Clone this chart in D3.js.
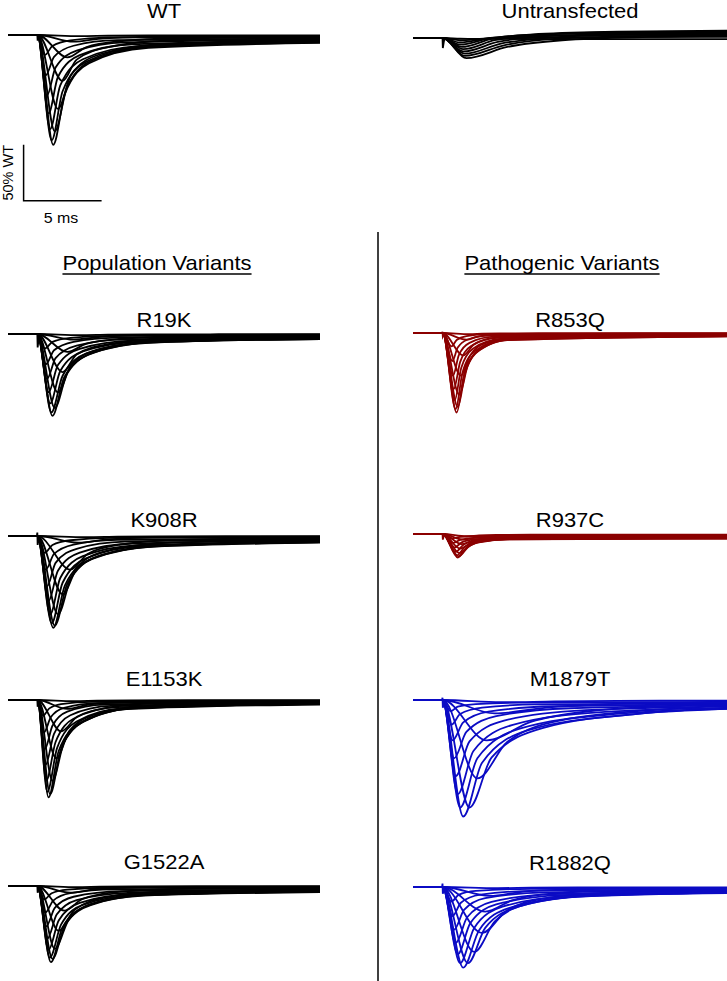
<!DOCTYPE html>
<html>
<head>
<meta charset="utf-8">
<script src="https://cdn.jsdelivr.net/npm/d3@7/dist/d3.min.js"></script>
<style>
  body { margin: 0; background: #fff; }
  text { font-family: "Liberation Sans", Arial, sans-serif; fill: #000; }
</style>
</head>
<body>
<svg id="fig" width="727" height="981"></svg>
<script>
// each sweep: [peak (% of WT), time of peak (ms), t at 50% decay, t at 20% decay, t at 5% decay, steady level (%)]
const stepTime = 1.9;
const sweepEnd = 20;

const wtSweeps = [
  [1, 4.6, 6.4, 9, 13.5, 0.3], [6, 4.2, 5.8, 8.0, 12, 0.8], [20, 3.8, 5.0, 7.1, 11, 2],
  [41, 3.5, 4.4, 6.5, 10.5, 3], [66, 3.2, 4.05, 5.9, 10, 5], [86, 3.0, 3.8, 5.5, 9.5, 6],
  [98, 2.9, 3.65, 5.2, 9, 7], [94, 2.8, 3.5, 5.0, 8.7, 6.5], [84, 2.7, 3.35, 4.8, 8.4, 6],
  [70, 2.6, 3.2, 4.6, 8, 5], [54, 2.5, 3.05, 4.4, 7.5, 4], [36, 2.42, 2.95, 4.2, 7, 3],
  [18, 2.35, 2.85, 4.0, 6.5, 1.5]
];
const untransfectedSweeps = [
  [18, 3.4, 6.0, 9.5, 15, -2], [16, 3.3, 5.8, 9.0, 15, -3], [14, 3.3, 5.6, 8.8, 14, -4],
  [12, 3.2, 5.4, 8.5, 14, -5], [10, 3.2, 5.2, 8.2, 13, -6], [8, 3.1, 5.0, 8.0, 13, -6.5],
  [6, 3.0, 4.8, 7.5, 12, -5], [4, 3.0, 4.6, 7.0, 12, -3], [2, 3.0, 4.5, 7, 11, -1],
  [0.5, 3, 4.5, 7, 11, 1]
];
const r19kSweeps = [
  [1, 4.6, 6.4, 9, 13.5, 0.2], [5, 4.2, 5.8, 8.0, 12, 0.6], [16, 3.8, 5.0, 7.1, 11, 1.5],
  [34, 3.5, 4.4, 6.5, 10.5, 2.5], [52, 3.2, 4.05, 5.9, 10, 3.5], [66, 3.0, 3.8, 5.5, 9.5, 4],
  [73, 2.85, 3.6, 5.2, 9, 4.5], [70, 2.78, 3.5, 5.0, 8.7, 4.5], [62, 2.7, 3.35, 4.8, 8.4, 4],
  [52, 2.6, 3.2, 4.6, 8, 3.5], [40, 2.5, 3.05, 4.4, 7.5, 3], [27, 2.42, 2.95, 4.2, 7, 2],
  [13, 2.35, 2.85, 4.0, 6.5, 1]
];
const k908rSweeps = [
  [1, 5.0, 7.0, 9.5, 14, 0.2], [6, 4.5, 6.2, 8.4, 12.5, 0.6], [30, 4.0, 5.1, 7.2, 11, 2],
  [52, 3.5, 4.45, 6.3, 10.5, 3.5], [70, 3.2, 4.05, 5.8, 10, 5], [80, 3.0, 3.8, 5.4, 9.5, 5.5],
  [82, 2.9, 3.65, 5.2, 9, 6], [78, 2.8, 3.5, 5.0, 8.7, 5.5], [70, 2.7, 3.35, 4.8, 8.4, 5],
  [58, 2.6, 3.2, 4.6, 8, 4], [45, 2.5, 3.05, 4.4, 7.5, 3], [30, 2.42, 2.95, 4.2, 7, 2],
  [15, 2.35, 2.85, 4.0, 6.5, 1]
];
const e1153kSweeps = [
  [1, 4.2, 5.7, 7.8, 11.5, 0.2], [8, 3.8, 5.1, 7.1, 10.5, 0.5], [28, 3.4, 4.45, 6.4, 9.8, 1.5],
  [52, 3.1, 3.95, 5.7, 9.2, 2.5], [72, 2.85, 3.6, 5.2, 8.5, 3], [84, 2.7, 3.4, 4.8, 8, 3.5],
  [87, 2.6, 3.25, 4.6, 7.6, 4], [82, 2.52, 3.15, 4.4, 7.3, 3.5], [72, 2.45, 3.05, 4.2, 7, 3],
  [58, 2.4, 2.95, 4.0, 6.6, 2.5], [44, 2.35, 2.85, 3.8, 6.2, 2], [29, 2.3, 2.75, 3.6, 5.8, 1.5],
  [14, 2.25, 2.65, 3.4, 5.4, 1]
];
const g1522aSweeps = [
  [1, 4.4, 5.9, 8.1, 12.5, 0.2], [6, 4.0, 5.4, 7.5, 11.5, 0.6], [22, 3.6, 4.75, 6.8, 10.7, 1.5],
  [40, 3.25, 4.25, 6.2, 10.2, 3], [56, 3.0, 3.9, 5.7, 9.7, 4], [65, 2.85, 3.65, 5.3, 9.1, 5],
  [68, 2.75, 3.5, 5.0, 8.7, 5.5], [64, 2.68, 3.4, 4.8, 8.4, 5], [57, 2.6, 3.25, 4.6, 8.1, 4.5],
  [47, 2.52, 3.12, 4.4, 7.7, 4], [36, 2.45, 3.0, 4.2, 7.3, 3], [24, 2.38, 2.9, 4.0, 6.8, 2],
  [12, 2.32, 2.8, 3.8, 6.4, 1]
];
const r853qSweeps = [
  [1, 3.6, 4.4, 5.5, 8, 0.2], [6, 3.4, 4.1, 5.2, 7.5, 0.5], [20, 3.2, 3.85, 4.9, 7.1, 1],
  [38, 3.05, 3.65, 4.65, 6.8, 1.5], [55, 2.95, 3.5, 4.45, 6.5, 2], [66, 2.85, 3.35, 4.25, 6.2, 2.5],
  [71, 2.78, 3.25, 4.1, 6, 3], [68, 2.72, 3.15, 3.95, 5.8, 3], [60, 2.66, 3.07, 3.82, 5.6, 2.5],
  [50, 2.6, 3.0, 3.7, 5.4, 2], [38, 2.55, 2.92, 3.6, 5.2, 1.5], [25, 2.5, 2.85, 3.5, 5, 1],
  [12, 2.45, 2.78, 3.4, 4.8, 0.5]
];
const r937cSweeps = [
  [2, 3.4, 4.2, 5.3, 7.5, 0.5], [5, 3.2, 4.0, 5.1, 7.2, 1], [9, 3.1, 3.85, 4.9, 7, 2],
  [13, 3.0, 3.7, 4.7, 6.8, 2.5], [17, 2.95, 3.6, 4.5, 6.6, 3], [20, 2.9, 3.5, 4.35, 6.4, 3.5],
  [21, 2.85, 3.4, 4.2, 6.2, 4], [19, 2.8, 3.3, 4.1, 6, 4], [16, 2.72, 3.2, 4.0, 5.8, 3.5],
  [12, 2.65, 3.1, 3.9, 5.6, 3], [8, 2.58, 3.0, 3.8, 5.4, 2.5], [4, 2.5, 2.9, 3.7, 5.2, 1.5]
];
const m1879tSweeps = [
  [2, 5.6, 9, 13, 18, 0.5], [12, 5.2, 8.5, 12.5, 18, 1.5], [36, 4.7, 7.5, 11.5, 17.5, 3],
  [70, 4.1, 6.0, 9.5, 16, 5], [96, 3.6, 5.0, 8.3, 15, 7], [104, 3.2, 4.4, 7.3, 14, 8],
  [96, 3.0, 4.1, 6.8, 13, 8], [84, 2.85, 3.85, 6.3, 12, 7], [68, 2.72, 3.6, 5.8, 11, 6],
  [52, 2.62, 3.4, 5.3, 10, 5], [36, 2.52, 3.2, 4.8, 9, 4], [22, 2.45, 3.0, 4.4, 8, 3],
  [10, 2.4, 2.85, 4.0, 7, 2]
];
const r1882qSweeps = [
  [1, 5.4, 7.5, 10.5, 15.5, 0.3], [8, 4.9, 6.8, 9.5, 14.5, 1], [22, 4.6, 6.3, 8.8, 13.5, 2],
  [41, 4.4, 5.9, 8.2, 13, 3], [58, 3.9, 5.2, 7.4, 12, 4], [68, 3.5, 4.6, 6.7, 11, 5],
  [72, 3.2, 4.2, 6.1, 10.5, 5.5], [68, 3.0, 3.9, 5.7, 10, 5], [60, 2.85, 3.65, 5.3, 9.5, 4.5],
  [50, 2.72, 3.45, 5.0, 9, 4], [38, 2.62, 3.25, 4.6, 8.5, 3], [26, 2.52, 3.05, 4.3, 8, 2],
  [13, 2.45, 2.9, 4.0, 7.5, 1]
];

const panelNames = ["WT", "Untransfected", "R19K", "R853Q", "K908R", "R937C", "E1153K", "M1879T", "G1522A", "R1882Q"];
const panelSweeps = [wtSweeps, untransfectedSweeps, r19kSweeps, r853qSweeps, k908rSweeps,
  r937cSweeps, e1153kSweeps, m1879tSweeps, g1522aSweeps, r1882qSweeps];
// capacitive blip at the step: [down %, up %]
const artifactSizes = [[5, 0], [9, 0], [12, 0], [3, 1], [8, 3], [5, 0], [6, 0], [7, 2], [6, 0], [6, 3]];
const groupTitles = ["Population Variants", "Pathogenic Variants"];
const scaleBarMs = 5;
const scaleBarPct = 50;

// layout
const colRange = [[8, 320], [413, 727]];
const colColor = ["#000", "#000", "#000", "#8b0000", "#000", "#8b0000", "#000", "#0b0bc4", "#000", "#0b0bc4"];
const baselines = [35, 38, 334, 333, 536, 534, 700, 700, 886, 887];
const titleY = [18, 18, 327, 327, 527, 527, 686, 686, 869, 870];
const pxPerPct = 1.12;

const svg = d3.select("#fig");

function sweepPoints(s) {
  const [amp, tp, t50, t20, t5, end] = s;
  const d = amp - end;
  return [[0, 0], [stepTime, 0], [tp, amp], [t50, end + d * 0.5], [t20, end + d * 0.2],
    [t5, end + d * 0.05], [sweepEnd, end]];
}

function stretchedText(g, str, cx, y, size) {
  return g.append("text")
    .attr("transform", "translate(" + cx + "," + y + ") scale(1.1,1)")
    .attr("text-anchor", "middle")
    .attr("font-size", size)
    .text(str);
}

panelNames.forEach(function(name, i) {
  var col = i % 2;
  var x = d3.scaleLinear().domain([0, sweepEnd]).range(colRange[col]);
  var y = d3.scaleLinear().domain([0, 100]).range([baselines[i], baselines[i] + 100 * pxPerPct]);
  var line = d3.line()
    .x(function(d) { return x(d[0]); })
    .y(function(d) { return y(d[1]); })
    .curve(d3.curveMonotoneX);

  var g = svg.append("g").attr("class", "panel");
  g.selectAll("path.sweep")
    .data(panelSweeps[i])
    .enter().append("path")
    .attr("class", "sweep")
    .attr("d", function(s) { return line(sweepPoints(s)); })
    .attr("fill", "none")
    .attr("stroke", colColor[i])
    .attr("stroke-width", 1.8)
    .attr("stroke-linejoin", "round");

  var a = artifactSizes[i];
  g.append("path")
    .attr("d", d3.line().x(function(d) { return x(d[0]); }).y(function(d) { return y(d[1]); })([
      [stepTime - 0.05, 0], [stepTime - 0.02, -a[1]], [stepTime, a[0]], [stepTime + 0.06, a[0] * 0.4], [stepTime + 0.12, 0]
    ]))
    .attr("fill", "none")
    .attr("stroke", colColor[i])
    .attr("stroke-width", 1.8);

  var cx = (colRange[col][0] + colRange[col][1]) / 2;
  stretchedText(g, name, cx, titleY[i], 20);
});

// group headings
var headX = [157, 562];
groupTitles.forEach(function(t, i) {
  var txt = stretchedText(svg, t, headX[i], 270, 20);
  var w = txt.node().getComputedTextLength() * 1.1;
  svg.append("line")
    .attr("x1", headX[i] - w / 2).attr("x2", headX[i] + w / 2)
    .attr("y1", 274).attr("y2", 274)
    .attr("stroke", "#000").attr("stroke-width", 1.3);
});

// divider
svg.append("line")
  .attr("x1", 378).attr("x2", 378)
  .attr("y1", 232).attr("y2", 981)
  .attr("stroke", "#000").attr("stroke-width", 1.5);

// scale bar (uses WT scales)
var xs = d3.scaleLinear().domain([0, sweepEnd]).range(colRange[0]);
var barTop = baselines[0] + 98 * pxPerPct;
var barBottom = barTop + scaleBarPct * pxPerPct;
var bar = svg.append("g").attr("class", "scalebar");
bar.append("path")
  .attr("d", "M" + xs(1.0) + "," + barTop + "V" + barBottom + "H" + xs(1.0 + scaleBarMs))
  .attr("fill", "none").attr("stroke", "#000").attr("stroke-width", 1.5);
bar.append("text")
  .attr("transform", "translate(13," + ((barTop + barBottom) / 2) + ") rotate(-90)")
  .attr("text-anchor", "middle")
  .attr("font-size", 14.5)
  .text(scaleBarPct + "% WT");
bar.append("text")
  .attr("transform", "translate(" + xs(1.0 + scaleBarMs / 2 - 0.1) + ",223) scale(1.1,1)")
  .attr("text-anchor", "middle")
  .attr("font-size", 14.5)
  .text(scaleBarMs + " ms");
</script>
</body>
</html>
